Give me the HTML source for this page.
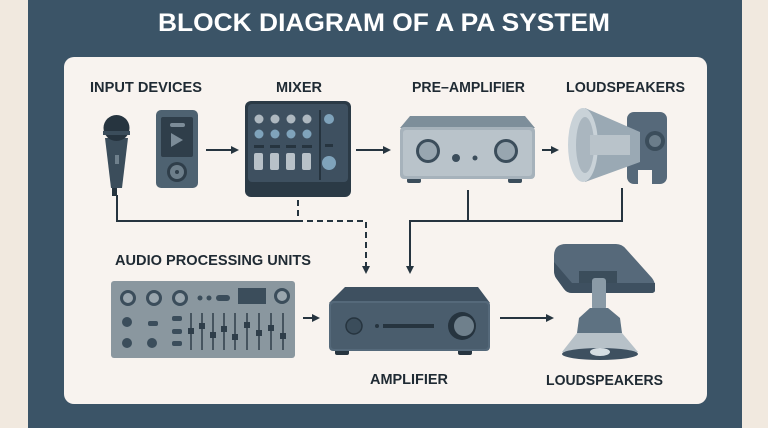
<!DOCTYPE html>
<html><head><meta charset="utf-8"><style>
html,body{margin:0;padding:0;width:768px;height:428px;overflow:hidden;background:#f1e9df}
svg{display:block}
text{font-family:"Liberation Sans",sans-serif;font-weight:bold}
</style></head><body>
<svg width="768" height="428" viewBox="0 0 768 428" xmlns="http://www.w3.org/2000/svg">
<defs>
<marker id="ah" markerWidth="8" markerHeight="8" refX="6" refY="4" orient="auto" markerUnits="userSpaceOnUse"><path d="M0,0 L8,4 L0,8 Z" fill="#26343f"/></marker>
</defs>
<rect x="0" y="0" width="768" height="428" fill="#f1e9df"/>
<rect x="28" y="0" width="714" height="428" fill="#3b5467"/>
<text x="384" y="31" fill="#fff" font-size="25" text-anchor="middle" textLength="452" lengthAdjust="spacingAndGlyphs">BLOCK DIAGRAM OF A PA SYSTEM</text>
<rect x="64" y="57" width="643" height="347" rx="10" fill="#f8f3ef"/>
<g fill="#1f2a33" font-size="15">
<text x="90" y="92" textLength="112" lengthAdjust="spacingAndGlyphs">INPUT DEVICES</text>
<text x="276" y="92" textLength="46" lengthAdjust="spacingAndGlyphs">MIXER</text>
<text x="412" y="92" textLength="113" lengthAdjust="spacingAndGlyphs">PRE–AMPLIFIER</text>
<text x="566" y="92" textLength="119" lengthAdjust="spacingAndGlyphs">LOUDSPEAKERS</text>
<text x="115" y="265" textLength="196" lengthAdjust="spacingAndGlyphs">AUDIO PROCESSING UNITS</text>
<text x="370" y="384" textLength="78" lengthAdjust="spacingAndGlyphs">AMPLIFIER</text>
<text x="546" y="385" textLength="117" lengthAdjust="spacingAndGlyphs">LOUDSPEAKERS</text>
</g>
<g stroke="#26343f" stroke-width="2" fill="none">
<path d="M117,195 V221 H298"/>
<path d="M298,200 V221 H366 V272" stroke-dasharray="6,4" marker-end="url(#ah)"/>
<path d="M468,190 V221"/><path d="M622,188 V221 H410 V272" marker-end="url(#ah)"/>
<path d="M206,150 H237" marker-end="url(#ah)"/>
<path d="M356,150 H389" marker-end="url(#ah)"/>
<path d="M542,150 H557" marker-end="url(#ah)"/>
<path d="M303,318 H318" marker-end="url(#ah)"/>
<path d="M500,318 H552" marker-end="url(#ah)"/>
</g>
<rect x="112" y="180" width="5" height="16" fill="#26343f"/>
<path d="M105,138 L128,138 L122,188 L111,188 Z" fill="#3b4d5b"/>
<circle cx="116.5" cy="128" r="13" fill="#26343f"/>
<rect x="103" y="131" width="27" height="4" fill="#3b4d5b"/>
<rect x="115" y="155" width="4" height="9" fill="#6f808c"/>
<rect x="156" y="110" width="42" height="78" rx="5" fill="#4e6271"/>
<rect x="161" y="117" width="32" height="40" rx="2" fill="#2f3e4a"/>
<rect x="170" y="123" width="15" height="4" rx="2" fill="#7c8c98"/>
<path d="M171,133 L183,140 L171,147 Z" fill="#7c8c98"/>
<circle cx="177" cy="172" r="10" fill="#2f3e4a"/><circle cx="177" cy="172" r="7" fill="#6d7e8a"/><circle cx="177" cy="172" r="2" fill="#2f3e4a"/>
<rect x="245" y="101" width="106" height="96" rx="6" fill="#2b3a46"/>
<rect x="248" y="104" width="100" height="78" rx="4" fill="#3e5060"/>
<g fill="#aeb8c0"><circle cx="259" cy="119" r="4.5"/><circle cx="275" cy="119" r="4.5"/><circle cx="291" cy="119" r="4.5"/><circle cx="307" cy="119" r="4.5"/></g>
<g fill="#7fa3bb"><circle cx="259" cy="134" r="4.5"/><circle cx="275" cy="134" r="4.5"/><circle cx="291" cy="134" r="4.5"/><circle cx="307" cy="134" r="4.5"/><circle cx="329" cy="119" r="5"/><circle cx="329" cy="163" r="7"/></g>
<rect x="319" y="110" width="2" height="70" fill="#26343f"/>
<g fill="#26343f"><rect x="254" y="145" width="10" height="3"/><rect x="270" y="145" width="10" height="3"/><rect x="286" y="145" width="10" height="3"/><rect x="302" y="145" width="10" height="3"/><rect x="325" y="144" width="8" height="3"/></g>
<g fill="#b8c1c8"><rect x="254" y="153" width="9" height="17" rx="2"/><rect x="270" y="153" width="9" height="17" rx="2"/><rect x="286" y="153" width="9" height="17" rx="2"/><rect x="302" y="153" width="9" height="17" rx="2"/></g>
<rect x="407" y="178" width="14" height="5" rx="2" fill="#3b4d5b"/><rect x="508" y="178" width="14" height="5" rx="2" fill="#3b4d5b"/>
<path d="M410,116 L525,116 L535,128 L400,128 Z" fill="#7d8e9a"/>
<rect x="400" y="127" width="135" height="52" rx="4" fill="#a6b2bb"/>
<rect x="403" y="130" width="129" height="46" rx="3" fill="#b9c3ca"/>
<circle cx="428" cy="151" r="12" fill="#3b4d5b"/><circle cx="428" cy="151" r="9" fill="#98a6b0"/>
<circle cx="506" cy="151" r="12" fill="#3b4d5b"/><circle cx="506" cy="151" r="9" fill="#98a6b0"/>
<circle cx="456" cy="158" r="4" fill="#3b4d5b"/><circle cx="475" cy="158" r="2.5" fill="#3b4d5b"/>
<rect x="627" y="112" width="40" height="72" rx="7" fill="#56697a"/>
<rect x="638" y="170" width="14" height="16" fill="#f8f3ef"/>
<path d="M585,108 L640,132 L640,162 L585,182 Z" fill="#9aa9b4"/>
<ellipse cx="583" cy="145" rx="15" ry="37" fill="#c9d2d8"/>
<ellipse cx="585" cy="145" rx="9" ry="28" fill="#aab6bf"/>
<rect x="590" y="135" width="40" height="20" fill="#b9c3ca"/>
<circle cx="655" cy="141" r="10" fill="#3b4d5b"/><circle cx="655" cy="141" r="6" fill="#6b7d8a"/>
<rect x="111" y="281" width="184" height="77" rx="3" fill="#8a979f"/>
<g fill="#3b4d5b"><circle cx="128" cy="298" r="8"/><circle cx="154" cy="298" r="8"/><circle cx="180" cy="298" r="8"/><circle cx="282" cy="296" r="8"/>
<circle cx="127" cy="322" r="5"/><circle cx="127" cy="343" r="5"/><circle cx="152" cy="343" r="5"/>
<rect x="238" y="288" width="28" height="16"/>
<circle cx="200" cy="298" r="2.5"/><circle cx="209" cy="298" r="2.5"/><rect x="216" y="295" width="14" height="6" rx="3"/>
<rect x="148" y="321" width="10" height="5" rx="2"/><rect x="172" y="316" width="10" height="5" rx="2"/><rect x="172" y="329" width="10" height="5" rx="2"/><rect x="172" y="341" width="10" height="5" rx="2"/>
</g>
<g fill="#9aa6ae"><circle cx="128" cy="298" r="5"/><circle cx="154" cy="298" r="5"/><circle cx="180" cy="298" r="5"/><circle cx="282" cy="296" r="5"/></g>
<g stroke="#2f3e4a" stroke-width="1.5">
<path d="M191,313 V350 M202,313 V350 M213,313 V350 M224,313 V350 M235,313 V350 M247,313 V350 M259,313 V350 M271,313 V350 M283,313 V350"/>
</g>
<g fill="#2f3e4a"><rect x="188" y="328" width="6" height="6"/><rect x="199" y="323" width="6" height="6"/><rect x="210" y="332" width="6" height="6"/><rect x="221" y="326" width="6" height="6"/><rect x="232" y="334" width="6" height="6"/><rect x="244" y="322" width="6" height="6"/><rect x="256" y="330" width="6" height="6"/><rect x="268" y="325" width="6" height="6"/><rect x="280" y="333" width="6" height="6"/></g>
<rect x="335" y="349" width="14" height="6" rx="2" fill="#26343f"/><rect x="458" y="349" width="14" height="6" rx="2" fill="#26343f"/>
<path d="M345,287 L478,287 L490,303 L329,303 Z" fill="#3e5060"/>
<rect x="329" y="301" width="161" height="50" rx="4" fill="#55697a"/>
<rect x="331" y="303" width="157" height="46" rx="3" fill="#4a5d6d"/>
<circle cx="354" cy="326" r="8" fill="#3b4d5b" stroke="#26343f" stroke-width="1.5"/>
<circle cx="377" cy="326" r="2" fill="#26343f"/><rect x="383" y="324" width="51" height="4" fill="#26343f"/>
<circle cx="462" cy="326" r="14" fill="#26343f"/><circle cx="464" cy="326" r="10" fill="#6f808c"/>
<path d="M566,244 L616,244 Q622,244 626,249 L652,278 Q655,282 655,286 L655,290 Q655,293 651,293 L572,293 Q567,293 564,289 L556,278 Q554,275 554,270 L554,256 Q554,244 566,244 Z" fill="#56697a"/>
<path d="M554,262 L572,283 L655,283 L655,290 Q655,293 651,293 L572,293 Q567,293 564,289 L556,278 Q554,275 554,270 Z" fill="#3e5060"/>
<rect x="579" y="271" width="38" height="12" fill="#3b4d5b"/>
<rect x="592" y="278" width="14" height="32" rx="3" fill="#8a9aa6"/>
<path d="M590,308 L608,308 L620,318 L622,333 L577,333 L579,318 Z" fill="#5e7282"/>
<path d="M577,333 L622,333 L638,352 Q600,365 562,352 Z" fill="#b7c1c8"/>
<ellipse cx="600" cy="354" rx="38" ry="6" fill="#3e5060"/>
<ellipse cx="600" cy="352" rx="10" ry="4" fill="#d5dde2"/>
</svg>
</body></html>
